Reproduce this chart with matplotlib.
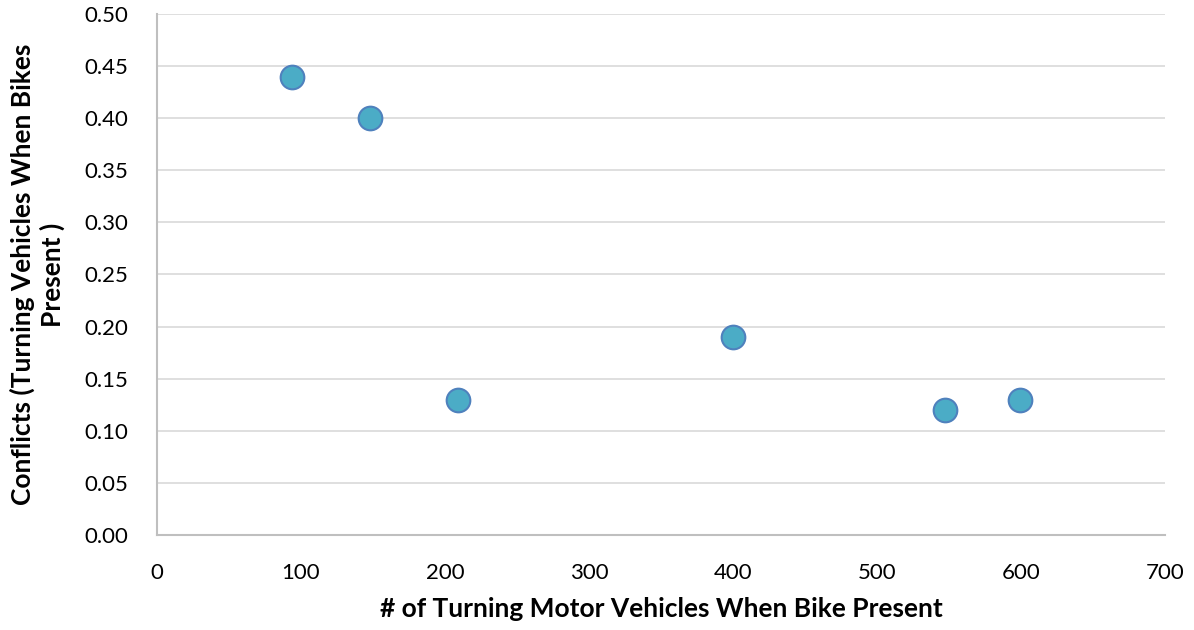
import matplotlib.pyplot as plt

# turning vehicle counts vs. conflict rate
turning_vehicles = [94, 148, 209, 400, 547, 599]
conflicts = [0.44, 0.40, 0.13, 0.19, 0.12, 0.13]

plt.rcParams['font.family'] = ['Lato', 'DejaVu Sans']

fig = plt.figure(figsize=(11.94, 6.30), dpi=100)
ax = fig.add_axes([0.1315, 0.1508, 0.8442, 0.827])

ax.scatter(turning_vehicles, conflicts, s=290, c='#4bacc6',
           edgecolors='#4f81bd', linewidths=1.5, zorder=3)

ax.set_xlim(0, 700)
ax.set_ylim(0, 0.5)
ax.set_xticks(range(0, 701, 100))
ax.set_yticks([i * 0.05 for i in range(11)])
ax.set_yticklabels(['%.2f' % (i * 0.05) for i in range(11)])

ax.yaxis.grid(True, color='#d9d9d9', linewidth=1.2)
ax.set_axisbelow(True)
for side in ['top', 'right']:
    ax.spines[side].set_visible(False)
for side in ['left', 'bottom']:
    ax.spines[side].set_color('#bfbfbf')
    ax.spines[side].set_linewidth(1.5)
ax.tick_params(length=0, labelsize=16, colors='black')
ax.tick_params(axis='y', pad=21)
ax.tick_params(axis='x', pad=20)

ax.set_xlabel('# of Turning Motor Vehicles When Bike Present',
              fontsize=19, fontweight='bold', labelpad=10)
ax.set_ylabel('Conflicts (Turning Vehicles When Bikes\nPresent )',
              fontsize=19, fontweight='bold', labelpad=14)

fig.savefig('out.png', dpi=100)
